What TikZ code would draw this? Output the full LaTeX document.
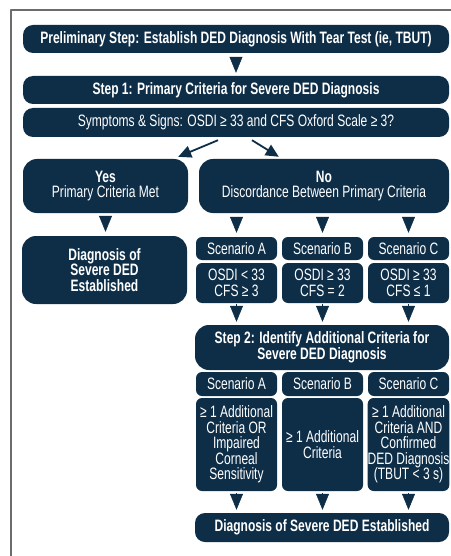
\documentclass[tikz,border=0pt]{standalone}
\usepackage{fontspec}
\setmainfont{Liberation Sans}[FakeStretch=0.73]
\usetikzlibrary{arrows.meta}
\definecolor{navy}{RGB}{14,46,72}
\begin{document}
\begin{tikzpicture}[x=1pt,y=-1pt,line join=round,
	box/.style={fill=navy,text=white,rounded corners=10pt,inner sep=0pt,align=center,
		font=\fontsize{16.5}{15.5}\selectfont},
	bigbox/.style={box,rounded corners=14pt},
	small/.style={box,rounded corners=6pt,minimum width=81pt},
	tri/.style={-{Triangle[width=13pt,length=16pt]},navy,line width=0.5pt},
	diagarr/.style={-{Triangle[width=12pt,length=13pt]},navy,line width=1.8pt}]
	\useasboundingbox (0,0) rectangle (450,556);
	\draw[gray!85!black,line width=1.5pt] (11,556)--(11,10)--(451,10);
	% step 1
	\node[box,minimum width=426pt,minimum height=28pt] (pre) at (236,39) {\bfseries Preliminary Step: Establish DED Diagnosis With Tear Test (ie, TBUT)};
	\node[box,minimum width=426pt,minimum height=28pt] (step1) at (236,90) {\bfseries Step 1: Primary Criteria for Severe DED Diagnosis};
	\node[box,minimum width=426pt,minimum height=29pt] (sym) at (236,122.5) {Symptoms \& Signs: OSDI ≥ 33 and CFS Oxford Scale ≥ 3?};
	\node[bigbox,minimum width=165pt,minimum height=54pt] (yes) at (105.5,186) {\textbf{Yes}\\Primary Criteria Met};
	\node[bigbox,minimum width=250pt,minimum height=54pt] (no) at (324,186) {\textbf{No}\\Discordance Between Primary Criteria};
	\node[bigbox,minimum width=165pt,minimum height=68pt] (diag) at (104.5,270) {\bfseries Diagnosis of\\\bfseries Severe DED\\\bfseries Established};
	\node[small,minimum height=23pt] (scA) at (236.5,248.5) {Scenario A};
	\node[small,minimum height=23pt] (scB) at (322.5,248.5) {Scenario B};
	\node[small,minimum height=23pt] (scC) at (408.5,248.5) {Scenario C};
	\node[small,minimum height=40pt] (osA) at (236.5,283) {OSDI < 33\\CFS ≥ 3};
	\node[small,minimum height=40pt] (osB) at (322.5,283) {OSDI ≥ 33\\CFS = 2};
	\node[small,minimum height=40pt] (osC) at (408.5,283) {OSDI ≥ 33\\CFS ≤ 1};
	% step 2
	\node[bigbox,minimum width=254pt,minimum height=45pt] (step2) at (322,347.5) {\bfseries Step 2: Identify Additional Criteria for\\\bfseries Severe DED Diagnosis};
	\node[small,minimum height=24pt] (adA) at (236.5,384) {Scenario A};
	\node[small,minimum height=24pt] (adB) at (322.5,384) {Scenario B};
	\node[small,minimum height=24pt] (adC) at (408.5,384) {Scenario C};
	\node[small,minimum height=93pt] (crA) at (236.5,444.5) {≥ 1 Additional\\Criteria OR\\Impaired\\Corneal\\Sensitivity};
	\node[small,minimum height=93pt] (crB) at (322.5,444.5) {≥ 1 Additional\\Criteria};
	\node[small,minimum height=93pt] (crC) at (408.5,444.5) {≥ 1 Additional\\Criteria AND\\Confirmed\\DED Diagnosis\\(TBUT < 3 s)};
	\node[box,minimum width=254pt,minimum height=29pt] (final) at (322,527.5) {\bfseries Diagnosis of Severe DED Established};
	% arrows
	\draw[tri,shorten <=4pt,shorten >=3pt] (pre) -- (step1);
	\coordinate (yesTip) at ([shift={(-10,-2)}]yes.north east);
	\coordinate (noTip) at ([shift={(80,-2)}]no.north west);
	\draw[diagarr] ([shift={(-18,3)}]sym.south) -- (yesTip);
	\draw[diagarr] ([shift={(16,3)}]sym.south) -- (noTip);
	\draw[tri,shorten <=4pt,shorten >=4pt] (yes) -- (yes |- diag.north);
	\foreach \s in {A,B,C}{
		\draw[tri,shorten <=4pt,shorten >=4pt] (no.south -| sc\s) -- (sc\s);
		\draw[tri,shorten <=1pt,shorten >=3pt] (os\s) -- (os\s |- step2.north);
		\draw[tri,shorten <=2pt,shorten >=3pt] (cr\s) -- (cr\s |- final.north);
	}
\end{tikzpicture}
\end{document}
